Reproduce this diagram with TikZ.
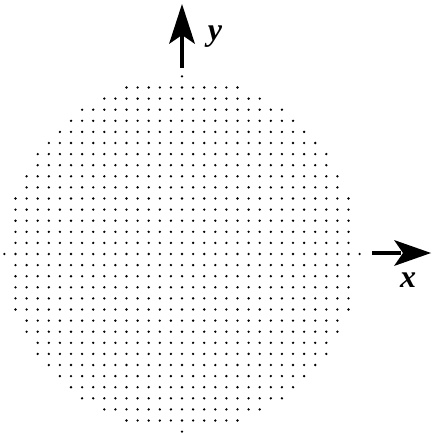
\documentclass[tikz,border=0pt]{standalone}
\usepackage{fontspec}
\setmainfont{Liberation Serif}
\tikzset{
  axisline/.style={line width=3.4pt},
  axishead/.style={fill=black},
  axislabel/.style={font=\fontsize{32}{34}\selectfont\bfseries\itshape, inner sep=0pt},
  gridpt/.style={fill=black}
}
\begin{document}
\begin{tikzpicture}[x=1pt,y=-1pt]
\useasboundingbox (0,0) rectangle (431,433);
% dot grid inside a disk of radius 16 spacings
\foreach \i in {-16,...,16}{
  \foreach \j in {-16,...,16}{
    \pgfmathtruncatemacro\rr{\i*\i+\j*\j}
    \ifnum\rr<257
      \fill[gridpt] (182+11.1*\i,254+11.1*\j) circle (1.3pt);
    \fi
  }
}
% axes
\coordinate (ystart) at (182,68);
\coordinate (yend) at (182,4);
\coordinate (xstart) at (372,253);
\coordinate (xend) at (431,253);
\draw[axisline] (ystart) -- ([yshift=-30pt]yend);
\fill[axishead] (yend) -- ([shift={(13pt,-40pt)}]yend) -- ([yshift=-31pt]yend) -- ([shift={(-13pt,-40pt)}]yend) -- cycle;
\draw[axisline] (xstart) -- ([xshift=-30pt]xend);
\fill[axishead] (xend) -- ([shift={(-37pt,-13pt)}]xend) -- ([xshift=-28pt]xend) -- ([shift={(-37pt,13pt)}]xend) -- cycle;
\node[axislabel] (ylab) at (215,37) {y};
\node[axislabel] (xlab) at (408,280) {x};
\end{tikzpicture}
\end{document}
